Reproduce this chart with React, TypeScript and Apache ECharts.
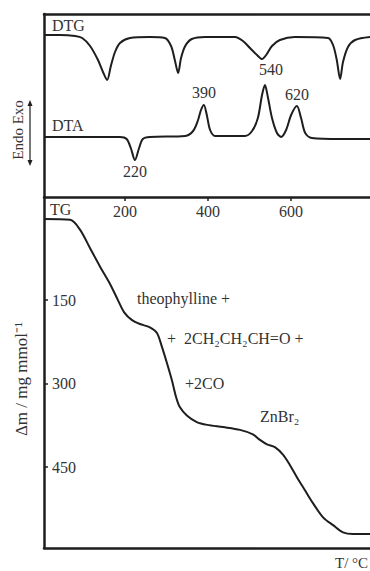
import React, { useEffect, useRef } from "react";
import * as echarts from "echarts";

// Temperature axis (°C)
const tempTicks = [200, 400, 600];
// Mass-loss axis (mg mmol^-1)
const massTicks = [150, 300, 450];

// DTG curve (arbitrary units, 0 = baseline, negative = dip)
const dtgTemp = [5, 44, 80, 97, 116, 135, 147, 157, 166, 176, 188, 212, 260, 296, 311, 320, 328, 335, 345, 361, 393, 465, 484, 501, 518, 530, 540, 554, 573, 609, 689, 701, 710, 718, 725, 737, 754, 790];
const dtgValues = [0.05, 0.05, 0, -0.1, -0.5, -1.2, -1.8, -2.2, -1.5, -0.8, -0.35, -0.1, -0.05, -0.1, -0.5, -1.2, -1.85, -1.1, -0.5, -0.15, -0.05, -0.05, -0.25, -0.6, -0.95, -1.15, -0.95, -0.5, -0.2, -0.05, -0.1, -0.45, -1.2, -2.15, -1.3, -0.55, -0.2, -0.05];

// DTA curve (arbitrary units, positive = exo)
const dtaTemp = [5, 188, 204, 214, 224, 234, 243, 260, 345, 364, 376, 383, 390, 397, 405, 417, 489, 506, 520, 530, 537, 544, 554, 566, 576, 588, 600, 614, 624, 634, 650, 718, 790];
const dtaValues = [0, 0, -0.1, -0.55, -1.15, -0.55, -0.1, 0, 0.05, 0.3, 0.85, 1.35, 1.6, 1.1, 0.35, 0.05, 0.05, 0.3, 0.95, 2.1, 2.6, 2.0, 0.95, 0.2, 0, 0.35, 1.1, 1.55, 0.95, 0.2, -0.05, -0.1, -0.1];

// TG curve: mass loss (mg mmol^-1)
const tgTemp = [5, 68, 92, 116, 140, 164, 183, 198, 217, 236, 260, 277, 289, 301, 313, 323, 332, 349, 373, 398, 436, 477, 508, 525, 542, 561, 581, 597, 614, 633, 653, 677, 701, 725, 749, 790];
const tgValues = [4.5, 6, 24, 57, 90, 121, 150, 172, 186, 193, 199, 209, 234, 263, 294, 324, 342, 357, 369, 374, 378, 383, 391, 401, 409, 414, 428, 446, 468, 491, 515, 540, 554, 567, 570, 570];

// Peak annotations: label text and the DTA data temperature it marks
const peakLabels = ["220", "390", "540", "620"];
const peakDataTemps = [224, 390, 537, 614];

const FONT = "Liberation Serif";
const FS = 16;
const LINE = "#1e1e1e";
const TXT = "#333";

function pairs(xs: number[], ys: number[]) {
  return xs.map((x, i) => [x, ys[i]]);
}

export default function App() {
  const ref = useRef<HTMLDivElement>(null);
  useEffect(() => {
    if (!ref.current) return;
    const chart = echarts.init(ref.current, null, { renderer: "svg" });
    const axisLine = { show: true, onZero: false, lineStyle: { color: LINE, width: 2.5 } };
    const peakLabel = (k: number, dx: number, dy: number) => {
      const t = peakDataTemps[k];
      return {
        coord: [t, dtaValues[dtaTemp.indexOf(t)]],
        symbol: "circle",
        symbolSize: 0,
        label: {
          show: true,
          formatter: peakLabels[k],
          position: "inside",
          offset: [dx, dy],
          fontFamily: FONT,
          fontSize: FS,
          color: TXT,
        },
      };
    };
    const txt = (text: string, x: number, y: number, size = FS) => ({
      type: "text", x, y,
      style: { text, fontFamily: FONT, fontSize: size, fill: TXT, textVerticalAlign: "middle" },
    });
    chart.setOption({
      animation: false,
      grid: [
        { left: 44, right: 0, top: 14, height: 183 },
        { left: 44, right: 0, top: 197, height: 351 },
      ],
      xAxis: [
        {
          type: "value", gridIndex: 0, position: "bottom", min: 5, max: 790,
          axisLine,
          axisTick: { show: true, inside: false, length: 4, customValues: tempTicks, lineStyle: { color: LINE, width: 1.5 } },
          axisLabel: { customValues: tempTicks, margin: 6, fontFamily: FONT, fontSize: FS, color: TXT },
          splitLine: { show: false },
        },
        {
          type: "value", gridIndex: 0, position: "top", min: 5, max: 790,
          axisLine, axisTick: { show: false }, axisLabel: { show: false }, splitLine: { show: false },
        },
        {
          type: "value", gridIndex: 1, position: "bottom", min: 5, max: 790,
          axisLine, axisTick: { show: false }, axisLabel: { show: false }, splitLine: { show: false },
        },
      ],
      yAxis: [
        {
          type: "value", gridIndex: 0, min: -8.05, max: 1.1,
          axisLine, axisTick: { show: false }, axisLabel: { show: false }, splitLine: { show: false },
        },
        {
          type: "value", gridIndex: 0, min: -3.0, max: 6.15, show: false,
        },
        {
          type: "value", gridIndex: 1, min: -35, max: 595, inverse: true,
          axisLine,
          axisTick: { show: true, inside: true, length: 4, customValues: massTicks, lineStyle: { color: LINE, width: 1.5 } },
          axisLabel: { inside: true, customValues: massTicks, margin: 8, fontFamily: FONT, fontSize: FS, color: TXT },
          splitLine: { show: false },
        },
      ],
      series: [
        {
          name: "DTG", type: "line", xAxisIndex: 0, yAxisIndex: 0,
          data: pairs(dtgTemp, dtgValues), smooth: 0.3, symbol: "none",
          lineStyle: { color: LINE, width: 2 },
        },
        {
          name: "DTA", type: "line", xAxisIndex: 0, yAxisIndex: 1,
          data: pairs(dtaTemp, dtaValues), smooth: 0.3, symbol: "none",
          lineStyle: { color: LINE, width: 2 },
          markPoint: {
            silent: true,
            data: [
              peakLabel(0, 0, 11),
              peakLabel(1, 0, -13),
              peakLabel(2, 6, -16),
              peakLabel(3, 0, -12),
            ],
          },
        },
        {
          name: "TG", type: "line", xAxisIndex: 2, yAxisIndex: 2,
          data: pairs(tgTemp, tgValues), smooth: 0.3, symbol: "none",
          lineStyle: { color: LINE, width: 2 },
        },
      ],
      graphic: [
        txt("DTG", 52, 25),
        txt("DTA", 52, 125),
        txt("TG", 50, 209),
        txt("theophylline +", 137, 298),
        txt("+  2CH₂CH₂CH=O +", 167, 338),
        txt("+2CO", 185, 383),
        txt("ZnBr₂", 260, 416),
        txt("T/ °C", 335, 563, 15),
        { type: "text", x: 21, y: 379, rotation: Math.PI / 2, style: { text: "Δm / mg mmol⁻¹", fontFamily: FONT, fontSize: 17, fill: TXT, textAlign: "center", textVerticalAlign: "middle" } },
        { type: "text", x: 18, y: 130, rotation: Math.PI / 2, style: { text: "Endo Exo", fontFamily: FONT, fontSize: 15, fill: TXT, textAlign: "center", textVerticalAlign: "middle" } },
        { type: "line", shape: { x1: 30, y1: 103, x2: 30, y2: 163 }, style: { stroke: LINE, lineWidth: 1.2 } },
        { type: "polygon", shape: { points: [[30, 100], [27.5, 106], [32.5, 106]] }, style: { fill: LINE } },
        { type: "polygon", shape: { points: [[30, 166], [27.5, 160], [32.5, 160]] }, style: { fill: LINE } },
      ],
    });
    return () => chart.dispose();
  }, []);
  return <div ref={ref} style={{ position: "absolute", left: 0, top: 0, width: 370, height: 571 }} />;
}
